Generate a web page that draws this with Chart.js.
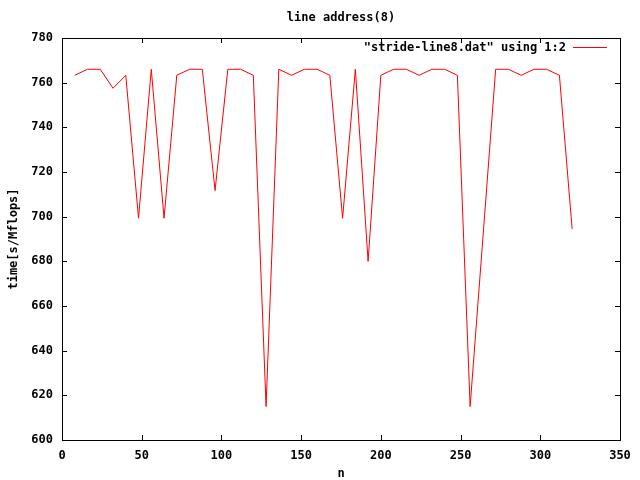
<!DOCTYPE html>
<html>
<head>
<meta charset="utf-8">
<script src="https://cdn.jsdelivr.net/npm/chart.js@4.4.1/dist/chart.umd.min.js"></script>
<style>
  html, body { margin: 0; padding: 0; background: #fff; }
  canvas { display: block; }
</style>
</head>
<body>
<canvas id="chart" width="640" height="480"></canvas>
<script>
const strides = [8, 16, 24, 32, 40, 48, 56, 64, 72, 80,
                 88, 96, 104, 112, 120, 128, 136, 144, 152, 160,
                 168, 176, 184, 192, 200, 208, 216, 224, 232, 240,
                 248, 256, 264, 272, 280, 288, 296, 304, 312, 320];
const times = [763.3, 766, 766, 757.5, 763.3, 699.3, 766, 699.3, 763.3, 766,
               766, 711.7, 766, 766, 763.3, 615, 766, 763.3, 766, 766,
               763.3, 699.3, 766, 680, 763.3, 766, 766, 763.3, 766, 766,
               763.3, 615, 690.5, 766, 766, 763.3, 766, 766, 763.3, 694.4];

const chartTitle = 'line address(8)';
const seriesLabel = '"stride-line8.dat" using 1:2';
const xTitle = 'n';
const yTitle = 'time[s/Mflops]';

const FONT = 'bold 12px "DejaVu Sans Mono", "Liberation Mono", monospace';
const TICK_LEN = 5;

// gnuplot look: white page, box border, inward mirrored ticks, text, key
const gnuplotFrame = {
    id: 'gnuplotFrame',
    beforeDraw(chart) {
        const ctx = chart.ctx;
        ctx.save();
        ctx.fillStyle = '#fff';
        ctx.fillRect(0, 0, chart.width, chart.height);
        ctx.restore();
    },
    afterDraw(chart) {
        const ctx = chart.ctx;
        const a = chart.chartArea;
        const xs = chart.scales.x;
        const ys = chart.scales.y;
        ctx.save();
        ctx.strokeStyle = '#000';
        ctx.lineWidth = 1;
        ctx.strokeRect(Math.round(a.left) + 0.5, Math.round(a.top) + 0.5,
            Math.round(a.right - a.left), Math.round(a.bottom - a.top));

        ctx.beginPath();
        xs.ticks.forEach(t => {
            const px = Math.round(xs.getPixelForValue(t.value)) + 0.5;
            ctx.moveTo(px, a.bottom);
            ctx.lineTo(px, a.bottom - TICK_LEN);
            ctx.moveTo(px, a.top);
            ctx.lineTo(px, a.top + TICK_LEN);
        });
        ys.ticks.forEach(t => {
            const py = Math.round(ys.getPixelForValue(t.value)) + 0.5;
            ctx.moveTo(a.left, py);
            ctx.lineTo(a.left + TICK_LEN, py);
            ctx.moveTo(a.right, py);
            ctx.lineTo(a.right - TICK_LEN, py);
        });
        ctx.stroke();

        ctx.fillStyle = '#000';
        ctx.font = FONT;
        ctx.textBaseline = 'middle';
        ctx.textAlign = 'center';
        ctx.fillText(chartTitle, (a.left + a.right) / 2, 18);
        ctx.fillText(xTitle, (a.left + a.right) / 2, 474);

        ctx.save();
        ctx.translate(14, (a.top + a.bottom) / 2);
        ctx.rotate(-Math.PI / 2);
        ctx.fillText(yTitle, 0, 0);
        ctx.restore();

        // key, top right inside the plot
        ctx.textAlign = 'right';
        ctx.fillText(seriesLabel, 566, 48);
        ctx.strokeStyle = '#ff0000';
        ctx.beginPath();
        ctx.moveTo(573, 47.5);
        ctx.lineTo(607, 47.5);
        ctx.stroke();
        ctx.restore();
    }
};

new Chart(document.getElementById('chart'), {
    type: 'line',
    data: {
        datasets: [{
            label: seriesLabel,
            data: strides.map((n, i) => ({ x: n, y: times[i] })),
            borderColor: '#ff0000',
            borderWidth: 1,
            pointRadius: 0,
            tension: 0,
            fill: false,
        }],
    },
    options: {
        responsive: false,
        animation: false,
        layout: { padding: { top: 38, right: 20, left: 0, bottom: 0 } },
        plugins: {
            legend: { display: false },
            title: { display: false },
            tooltip: { enabled: false },
        },
        scales: {
            x: {
                type: 'linear',
                min: 0,
                max: 350,
                grid: { display: false },
                border: { display: false },
                ticks: { stepSize: 50, color: '#000', font: { family: '"DejaVu Sans Mono"', size: 12, weight: 'bold' }, padding: 1, maxRotation: 0 },
                afterFit(scale) { scale.height = 40; },
            },
            y: {
                min: 600,
                max: 780,
                grid: { display: false },
                border: { display: false },
                ticks: { stepSize: 20, color: '#000', font: { family: '"DejaVu Sans Mono"', size: 12, weight: 'bold' }, padding: 1 },
                afterFit(scale) { scale.width = 62; },
            },
        },
    },
    plugins: [gnuplotFrame],
});
</script>
</body>
</html>
